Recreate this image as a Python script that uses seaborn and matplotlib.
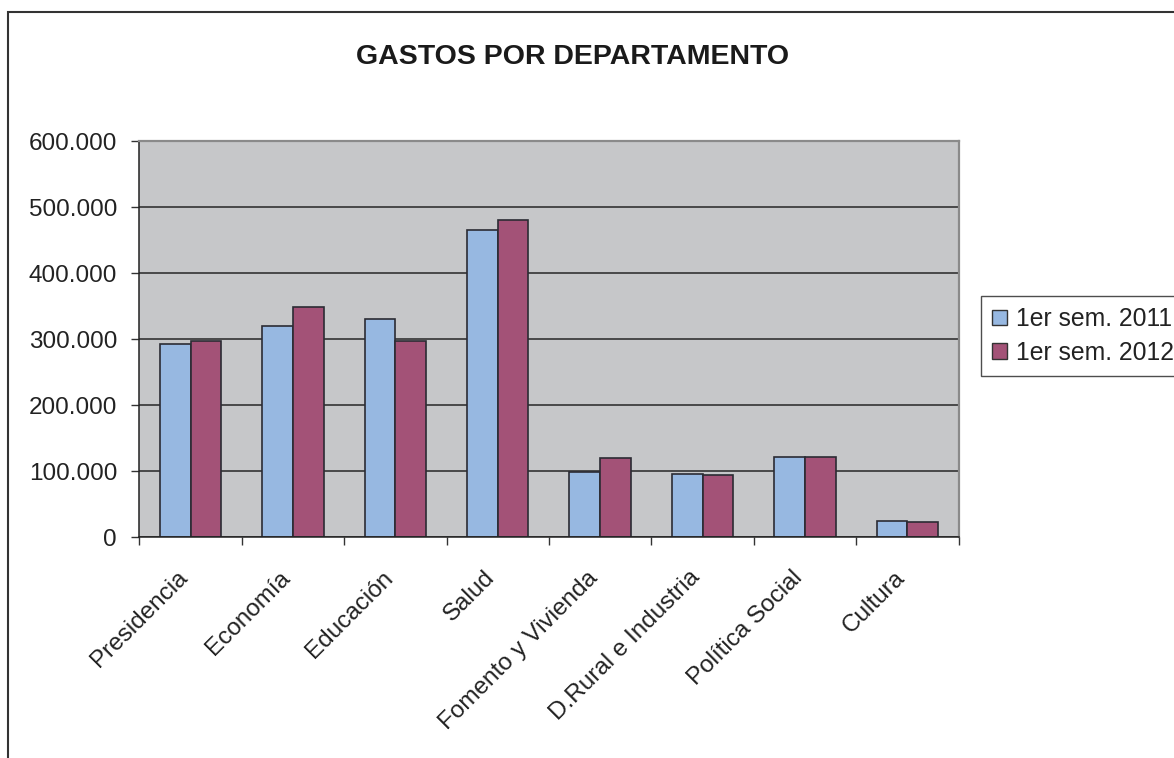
import numpy as np
import pandas as pd
import matplotlib
matplotlib.use("Agg")
import matplotlib.pyplot as plt
import seaborn as sns
from matplotlib.ticker import FuncFormatter
from matplotlib.patches import Rectangle, Patch
import matplotlib.transforms as mtransforms

categories = ["Presidencia", "Economía", "Educación", "Salud",
              "Fomento y Vivienda", "D.Rural e Industria", "Política Social", "Cultura"]
series_names = ["1er sem. 2011", "1er sem. 2012"]
values_2011 = [293000, 320000, 330000, 465000, 98000, 95500, 121000, 25000]
values_2012 = [297000, 349000, 297000, 480000, 119000, 93500, 121000, 23000]
y_ticks = [0, 100000, 200000, 300000, 400000, 500000, 600000]
colors = ["#97B8E1", "#A35277"]

df = pd.DataFrame({
    "Departamento": categories * 2,
    "Gasto": values_2011 + values_2012,
    "Serie": [series_names[0]] * len(categories) + [series_names[1]] * len(categories),
})

sns.set_style("white")
plt.rcParams['font.family'] = ['Liberation Sans', 'DejaVu Sans']

W, H = 1174, 758
fig = plt.figure(figsize=(W / 100, H / 100), dpi=100)
ax = fig.add_axes([139.3 / W, 1 - 537 / H, (958.5 - 139.3) / W, (537 - 141) / H])
ax.set_facecolor("#C6C7C9")

sns.barplot(data=df, x="Departamento", y="Gasto", hue="Serie", order=categories,
            hue_order=series_names, palette=colors, width=0.6, saturation=1,
            edgecolor="#2b2b33", linewidth=1.2, ax=ax, legend=False, errorbar=None)

ax.set_xlim(-0.5, len(categories) - 0.5)
ax.set_ylim(0, 600000)
ax.set_yticks(y_ticks)
ax.yaxis.set_major_formatter(FuncFormatter(lambda v, p: f"{int(v):,}".replace(",", ".")))
ax.yaxis.grid(True, color="#262626", linewidth=1.1)
ax.set_axisbelow(True)
ax.set_xlabel("")
ax.set_ylabel("")

ax.set_xticks(np.arange(-0.5, len(categories), 1.0))
ax.set_xticklabels([])
ax.set_xticks(np.arange(len(categories)), minor=True)
ax.tick_params(axis="x", which="major", direction="out", length=6, width=1, color="#333333", bottom=True)
ax.tick_params(axis="x", which="minor", length=0, pad=27)
ax.tick_params(axis="y", direction="out", length=6, width=1, color="#333333", left=True,
               labelsize=17.5, labelcolor="#222222", pad=10)
ax.set_xticklabels(categories, minor=True, rotation=45, ha="right", va="center",
                   rotation_mode="anchor", fontsize=17.5, color="#222222")
offset = mtransforms.ScaledTranslation(-6 / 100, 0, fig.dpi_scale_trans)
for lab in ax.get_xticklabels(minor=True):
    lab.set_transform(lab.get_transform() + offset)

for s in ["left", "bottom"]:
    ax.spines[s].set_color("#222222")
    ax.spines[s].set_linewidth(1.1)
for s in ["top", "right"]:
    ax.spines[s].set_color("#8a8a8a")
    ax.spines[s].set_linewidth(1.6)

fig.text(572.5 / W, 1 - 57 / H, "GASTOS POR DEPARTAMENTO", ha="center", va="center",
         fontsize=20.5, fontweight="bold", color="#1a1a1a")

fig.add_artist(Rectangle((8 / W, -0.05), 1.2, (H - 12) / H + 0.05, transform=fig.transFigure,
                         fill=False, edgecolor="#333333", linewidth=1.5))

handles = [Patch(facecolor=c, edgecolor="#333333", linewidth=1) for c in colors]
leg = fig.legend(handles, series_names, loc="upper left", bbox_to_anchor=(981 / W, 1 - 296 / H),
                 frameon=True, fancybox=False, edgecolor="#222222", fontsize=17.8,
                 handlelength=0.6, handleheight=0.6, handletextpad=0.35, borderpad=0.45,
                 labelspacing=0.4, borderaxespad=0)
leg.get_frame().set_linewidth(1)
for t in leg.get_texts():
    t.set_color("#222222")

fig.savefig("out.png", dpi=100)
